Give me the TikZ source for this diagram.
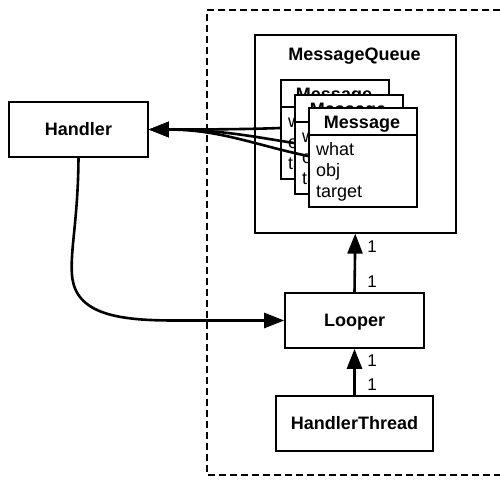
\documentclass[tikz,border=0pt]{standalone}
\usepackage{fontspec}
\setmainfont{Liberation Sans}
\usetikzlibrary{arrows.meta}

\begin{document}
\begin{tikzpicture}[x=1pt, y=-1pt,
    box/.style={draw, line width=1.6pt, fill=white, inner sep=0pt,
        text height=12.9pt, text depth=0pt,
        font=\fontsize{18}{21}\selectfont\bfseries},
    card/.style={draw, line width=1.6pt, fill=white, anchor=north west,
        minimum width=108pt, minimum height=99pt, inner sep=0pt},
    field/.style={anchor=base west, inner sep=0pt, font=\fontsize{18}{21}\selectfont},
    cardtitle/.style={anchor=base, inner sep=0pt, font=\fontsize{18}{21}\selectfont\bfseries},
    mult/.style={inner sep=0pt, font=\fontsize{17}{20}\selectfont},
    link/.style={line width=2.6pt, -{Triangle[length=20pt,width=15pt]}},
    outerframe/.style={line width=1.6pt, dash pattern=on 7pt off 4pt}]

    \useasboundingbox (0,0) rectangle (500,479);

    % =================================================================
    % 1. DASHED THREAD BORDER
    % =================================================================
    \draw[outerframe] (500,10) -- (207,10) -- (207,475) -- (500,475);

    % =================================================================
    % 2. MAIN BOXES
    % =================================================================
    \node[box, minimum width=139pt, minimum height=55pt] (handler) at (78.5,129.5) {Handler};
    \node[box, minimum width=201pt, minimum height=198pt, anchor=north west] (queue) at (254,34) {};
    \node[cardtitle] (queuetitle) at (354.5,60) {MessageQueue};
    \node[box, minimum width=139pt, minimum height=55pt] (looper) at (354.5,320.5) {Looper};
    \node[box, minimum width=157pt, minimum height=55pt] (thread) at (354.5,423.5) {HandlerThread};

    % =================================================================
    % 3. STACK OF MESSAGES (back to front)
    % =================================================================
    \foreach \i/\x/\y in {1/280/79, 2/294/94, 3/308/107} {
        \node[card] (msg\i) at (\x,\y) {};
        \draw[line width=1.6pt] (\x,\y+28) -- (\x+108,\y+28);
        \node[cardtitle] (msg\i-title) at (\x+54,\y+21) {Message};
        \node[field] (msg\i-what) at (\x+8,\y+48) {what};
        \node[field] (msg\i-obj) at (\x+8,\y+69) {obj};
        \node[field] (msg\i-target) at (\x+8,\y+90) {target};
        \coordinate (msg\i-in) at (\x,\y+49);
    }

    % =================================================================
    % 4. CONNECTORS
    % =================================================================
    % Messages point back to their target handler
    \foreach \i/\c in {1/129, 2/137, 3/145}
        \draw[link] (msg\i-in) .. controls (255,\c) and (220,129.5) .. (handler.east);

    % Handler posts to the looper
    \draw[link] (handler.south) .. controls (78,220) and (70,250) .. (72,275)
        .. controls (75,315) and (120,320.5) .. (175,320.5) -- (looper.west);

    % Ownership arrows
    \draw[link] (looper.north) -- (queue.south);
    \draw[link] (thread.north) -- (looper.south);

    % =================================================================
    % 5. MULTIPLICITIES
    % =================================================================
    \node[mult] (mult-queue) at (372,247) {1};
    \node[mult] (mult-looper-top) at (372,282) {1};
    \node[mult] (mult-looper-bottom) at (372,361) {1};
    \node[mult] (mult-thread) at (372,385) {1};

\end{tikzpicture}
\end{document}
